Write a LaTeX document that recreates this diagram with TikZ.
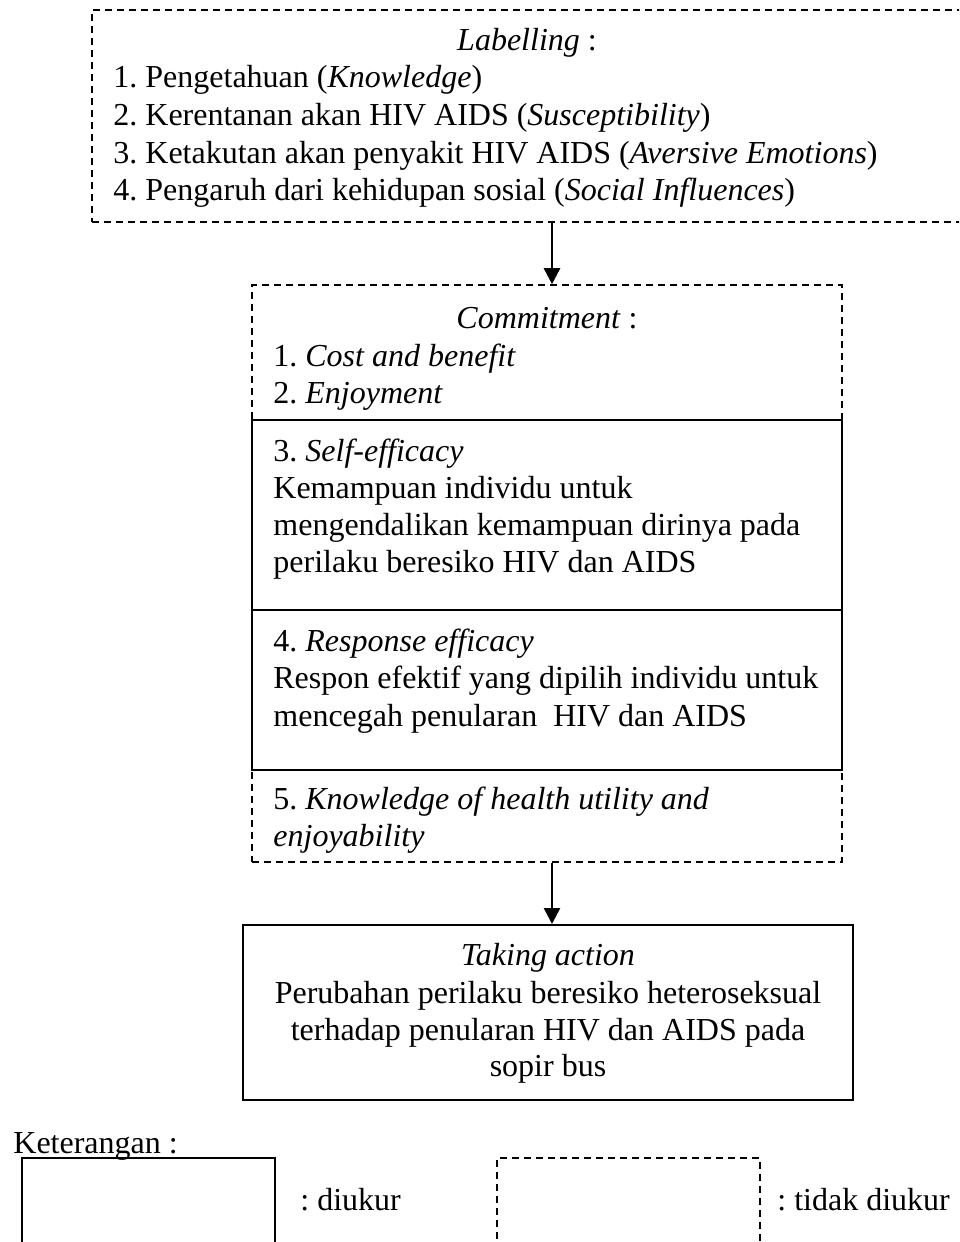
\documentclass[tikz,border=0pt]{standalone}
\usepackage{fontspec}
\setmainfont{Liberation Serif}
\usetikzlibrary{arrows.meta}

\tikzset{
  kotak/.style={draw, line width=1pt, inner sep=0pt},
  kotakputus/.style={draw, line width=0.8pt, dash pattern=on 3.5pt off 2.5pt, inner sep=0pt},
  teks/.style={anchor=base west, inner sep=0pt},
  tengah/.style={anchor=base, inner sep=0pt},
  panah/.style={line width=1.3pt, -{Triangle[length=8pt,width=8pt]}}
}

\begin{document}
\frenchspacing
\begin{tikzpicture}[x=0.5pt,y=-0.5pt,font=\fontsize{16pt}{18.5pt}\selectfont\frenchspacing]
\useasboundingbox (0,0) rectangle (959,1242);
\clip (0,0) rectangle (959,1242);
% labelling
\node[kotakputus, minimum width=435pt, minimum height=106pt] (labelling) at (527,116) {};
\node[tengah] (labjudul) at (527,50) {\textit{Labelling} :};
\node[teks] (lab1) at (113,87) {1. Pengetahuan (\textit{Knowledge})};
\node[teks] (lab2) at (113,125) {2. Kerentanan akan HIV AIDS (\textit{Susceptibility})};
\node[teks] (lab3) at (113,163) {3. Ketakutan akan penyakit HIV AIDS (\textit{Aversive Emotions})};
\node[teks] (lab4) at (113,200) {4. Pengaruh dari kehidupan sosial (\textit{Social Influences})};
% commitment
\node[kotakputus, minimum width=295pt, minimum height=288.5pt] (commit) at (547,573.5) {};
\node[kotak, minimum width=295pt, minimum height=95pt] (selfeff) at (547,515) {};
\node[kotak, minimum width=295pt, minimum height=80pt] (respeff) at (547,690) {};
\node[tengah] (comjudul) at (547,328) {\textit{Commitment} :};
\node[teks] (com1) at (273,366) {1. \textit{Cost and benefit}};
\node[teks] (com2) at (273,403) {2. \textit{Enjoyment}};
\node[teks] (com3) at (273,461) {3. \textit{Self-efficacy}};
\node[teks] (com3a) at (273,498) {Kemampuan individu untuk};
\node[teks] (com3b) at (273,535) {mengendalikan kemampuan dirinya pada};
\node[teks] (com3c) at (273,572) {perilaku beresiko HIV dan AIDS};
\node[teks] (com4) at (273,651) {4. \textit{Response efficacy}};
\node[teks] (com4a) at (273,688) {Respon efektif yang dipilih individu untuk};
\node[teks] (com4b) at (273,726) {mencegah penularan~ HIV dan AIDS};
\node[teks] (com5) at (273,809) {5. \textit{Knowledge of health utility and}};
\node[teks] (com5a) at (273,846) {\textit{enjoyability}};
% taking action
\node[kotak, minimum width=305pt, minimum height=87.5pt] (action) at (548,1012.5) {};
\node[tengah] (act0) at (548,965) {\textit{Taking action}};
\node[tengah] (act1) at (548,1003) {Perubahan perilaku beresiko heteroseksual};
\node[tengah] (act2) at (548,1040) {terhadap penularan HIV dan AIDS pada};
\node[tengah] (act3) at (548,1076) {sopir bus};
% panah
\coordinate (jalur) at (552,0);
\draw[panah] (labelling.south -| jalur) -- (commit.north -| jalur);
\draw[panah] (commit.south -| jalur) -- (action.north -| jalur);
% keterangan
\node[teks] (ket) at (13,1153) {Keterangan :};
\node[kotak, minimum width=126.5pt, minimum height=60pt] (diukur) at (148.5,1218) {};
\node[kotakputus, minimum width=131.5pt, minimum height=60pt] (tdkdiukur) at (628.5,1218) {};
\node[teks] (lbldiukur) at (300,1210) {: diukur};
\node[teks] (lbltdk) at (777,1210) {: tidak diukur};
\end{tikzpicture}
\end{document}
